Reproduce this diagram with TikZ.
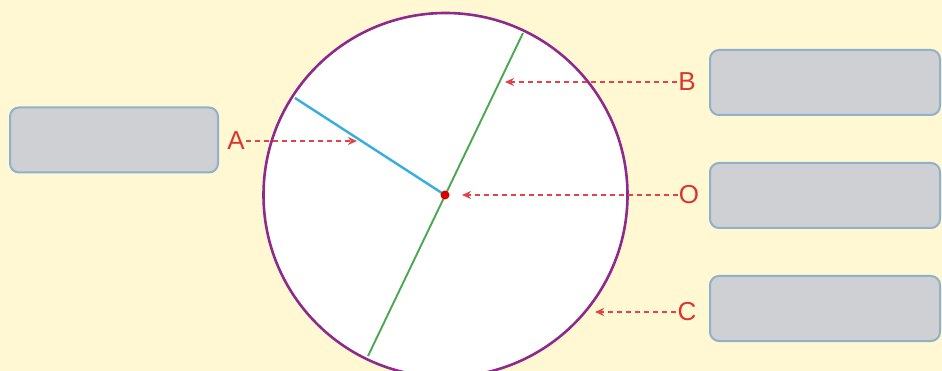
\documentclass[tikz,border=0pt]{standalone}
\usepackage{fontspec}
\setmainfont{Liberation Sans}
\usetikzlibrary{arrows.meta}
\definecolor{bgyel}{HTML}{FFF8D2}
\definecolor{boxfill}{HTML}{CFD0D3}
\definecolor{boxline}{HTML}{8FB1CB}
\definecolor{circline}{HTML}{8E2A8C}
\definecolor{lblred}{HTML}{D9372E}
\definecolor{arrred}{HTML}{E2434A}
\definecolor{radblue}{HTML}{38ADDF}
\definecolor{diamgreen}{HTML}{4BA852}
\tikzset{
  answerbox/.style={draw=boxline, line width=2pt, fill=boxfill, rounded corners=9pt, minimum width=#1, minimum height=65pt, inner sep=0pt},
  lbl/.style={text=lblred, font=\fontsize{26}{26}\selectfont, inner sep=1pt},
  pointer/.style={draw=arrred, line width=2.6pt, dash pattern=on 5pt off 4pt, -{Stealth[length=9pt,width=8pt]}},
}
\begin{document}
\begin{tikzpicture}[x=1pt,y=-1pt]
\fill[bgyel] (0,0) rectangle (942,371);
\useasboundingbox (0,0) rectangle (942,371);
% circle
\node[circle, draw=circline, line width=2.6pt, fill=white, minimum size=364pt, inner sep=0pt] (circ) at (445.5,195) {};
\coordinate (O) at (445,195);
\coordinate (dtop) at (523,33);
\coordinate (dbot) at (368,356);
\coordinate (rend) at (295,98);
\draw[diamgreen, line width=1.9pt] (dtop) -- (dbot);
\draw[radblue, line width=2.4pt] (O) -- (rend);
\fill[red!85!black] (O) circle (4.5pt);
% boxes
\node[answerbox=208pt] (boxA) at (114,140) {};
\node[answerbox=230pt] (boxB) at (825,82.5) {};
\node[answerbox=230pt] (boxO) at (825,195.5) {};
\node[answerbox=230pt] (boxC) at (825,308.5) {};
% labels
\node[lbl] (lA) at (236,141) {A};
\node[lbl] (lB) at (687,82) {B};
\node[lbl] (lO) at (689,195) {O};
\node[lbl] (lC) at (687,312) {C};
% arrow targets
\coordinate (tA) at (357,141);
\coordinate (tB) at (505,82);
\coordinate (tO) at (462,195);
\coordinate (tC) at (595,312);
\draw[pointer] (lA.east) -- (tA);
\draw[pointer] (lB.west) -- (tB);
\draw[pointer] (lO.west) -- (tO);
\draw[pointer, line width=1.8pt] (lC.west) -- (tC);
\end{tikzpicture}
\end{document}
